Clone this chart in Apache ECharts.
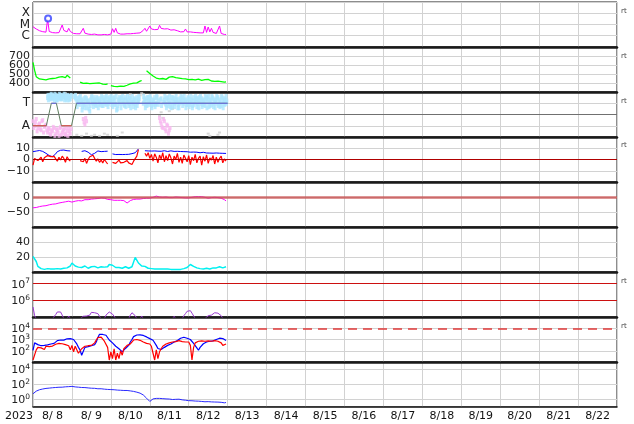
<!DOCTYPE html>
<html><head><meta charset="utf-8">
<script src="https://cdn.jsdelivr.net/npm/echarts@6/dist/echarts.min.js"></script>
<style>html,body{margin:0;padding:0;background:#fff}#c{width:634px;height:424px}</style>
</head><body><div id="c"></div>
<script>
// ---------- axis labels ----------
const dayLabels = ['8/ 8','8/ 9','8/10','8/11','8/12','8/13','8/14','8/15','8/16','8/17','8/18','8/19','8/20','8/21','8/22'];
const yearLabel = '2023';
const xrayClassLabels = {'-6':'C','-5':'M','-4':'X'};
const sectorLabels = {'1':'T','-1':'A'};

// ---------- data (hourly from 2023-08-08 00:00) ----------
const xrayMicroW = [6.3,5.0,4.0,3.2,2.8,2.5,2.3,2.2,2.1,28,2.4,2.0,1.9,1.8,1.8,1.7,1.9,2.5,9.0,3.0,2.0,2.2,4.6,2.4,
 1.7,1.6,1.5,1.5,1.6,1.5,1.8,4.6,1.7,1.5,1.4,1.4,1.3,1.3,1.4,1.3,1.2,1.3,1.2,1.2,1.3,1.2,1.2,1.3,
 1.4,4.2,2.0,4.6,1.8,1.5,1.4,1.5,1.4,1.4,1.5,1.6,1.5,1.4,1.6,1.5,1.7,1.6,1.8,2.2,3.0,4.6,2.5,2.4,
 7.4,4.0,3.2,3.5,4.2,3.6,8.5,4.5,5.0,4.0,3.4,4.2,3.6,3.2,3.0,3.4,3.0,2.8,2.4,2.2,2.0,2.3,4.0,2.2,
 2.0,2.2,1.9,2.0,1.8,1.9,2.0,1.8,2.4,1.8,7.4,2.0,6.0,2.2,4.6,2.0,1.8,1.6,1.5,7.4,1.6,1.4,1.3,1.3];
const flareHour = [9.3];
const flareMicroW = [35];

const windSpeed = [630,540,470,455,445,460,440,450,435,455,445,460,450,470,455,475,465,480,470,490,460,485,470,455,
 null,null,null,null,null,410,400,395,405,398,400,392,402,396,405,398,392,400,395,388,392,385,390,null,
 372,368,362,370,360,358,365,356,362,368,375,382,390,388,398,405,402,412,420,428,null,null,535,520,
 505,490,478,470,455,470,445,462,450,468,440,458,465,445,470,452,460,438,455,462,448,452,445,458,
 438,452,440,460,435,448,442,455,430,445,438,425,440,430,422,435,418,428,420,432,415,420,410,412];

const sectorHours = [0, 8.2, 11.3, 14.4, 17.5, 23.7, 26.8, 120];
const sectorState = [-1, -1, 1, 1, -1, -1, 1, 1];
const sectorBlueA = [null,null,null,null,null,null,null,null,null,
 1.5,1.6,1.4,1.7,1.5,1.6,1.3,1.5,1.7,1.4,1.6,1.5,1.3,1.6,1.4,
 null,null,1.5,
 1.2,1.4,0.9,1.3,1.1,0.6,1.4,1.2,0.3,1.5,1.0,1.3,0.8,1.4,1.2,1.1,1.5,1.3,0.9,1.4,1.2,
 1.3,1.1,1.5,0.9,0.5,1.2,1.4,1.0,1.3,1.5,1.2,0.8,1.4,1.1,0.7,1.3,1.5,1.2,null,null,1.0,1.4,1.2,1.5,
 1.1,0.8,1.3,1.5,1.0,1.2,null,1.4,null,1.3,0.9,1.5,1.0,1.2,0.8,1.4,1.1,1.3,0.6,1.2,1.5,1.0,1.3,1.1,
 1.4,0.9,1.2,1.5,1.1,0.7,1.3,1.0,1.4,1.2,0.8,1.5,1.1,1.3,0.9,1.4,1.2,1.0,1.5,1.3,0.8,1.2,1.4,1.6];
const sectorBlueB = [null,null,null,null,null,null,null,null,null,
 1.3,1.7,1.5,1.4,1.8,1.3,1.6,1.4,1.5,1.7,1.3,1.6,1.5,1.4,1.7,
 null,1.6,1.4,
 1.0,1.5,1.2,0.7,1.4,1.0,1.2,0.5,1.3,1.1,1.5,0.9,1.3,1.0,1.4,0.8,1.2,1.5,1.1,1.0,1.3,
 0.9,1.4,1.2,0.4,1.3,1.0,1.5,1.2,0.8,1.3,1.1,1.5,1.0,1.2,1.4,0.9,1.1,1.4,null,null,1.3,0.9,1.5,1.2,
 1.4,1.0,1.2,0.9,1.5,null,1.3,null,1.1,1.0,1.4,1.2,0.7,1.5,1.1,1.0,1.3,0.9,1.4,1.1,1.3,1.2,0.9,1.5,
 1.1,1.3,0.8,1.2,1.4,1.0,1.5,1.2,0.9,1.3,1.1,1.4,0.7,1.2,1.5,1.0,1.3,1.4,0.9,1.1,1.5,1.0,1.3,1.2];
const sectorBlueC = [null,null,null,null,null,null,null,null,null,
 1.7,1.4,1.8,1.5,1.3,1.7,1.5,1.8,1.4,1.6,1.8,1.4,1.7,1.3,1.6,
 null,null,1.7,
 0.7,1.1,1.6,0.4,0.9,1.5,0.6,1.0,0.8,1.6,0.7,1.1,1.5,0.6,0.9,1.6,0.8,1.0,1.6,0.7,1.5,
 1.6,0.7,0.9,1.6,0.8,1.5,0.6,1.6,0.9,0.7,1.6,1.0,0.6,1.6,1.0,0.6,0.8,1.6,null,null,1.6,0.6,0.8,0.9,
 1.6,0.6,0.9,0.7,1.6,0.9,null,0.8,null,1.6,0.6,0.8,1.6,0.6,1.5,0.7,1.6,0.6,1.0,1.6,0.8,1.6,0.6,0.9,
 0.7,1.6,0.6,0.9,1.6,1.4,0.6,1.6,0.7,0.9,1.6,0.6,1.6,0.8,1.6,0.7,0.6,1.6,0.8,0.7,1.6,0.6,0.9,1.0];
const sectorPinkA = [-0.6,-1.0,-0.4,-1.2,-0.8,-1.4,-0.5,-1.1,-0.9,-1.6,-1.3,-1.8,-1.5,-1.2,-1.7,-1.4,-1.9,-1.1,-1.6,-1.3,-1.8,-1.5,-1.2,-1.7,
 null,null,null,null,null,null,null,-0.4,-0.9,-0.6,
 null,null,null,null,null,null,null,null,null,null,null,null,null,null,null,null,null,null,null,null,null,null,
 null,null,null,null,null,null,null,null,null,null,null,null,null,null,null,null,null,null,null,null,null,null,
 -0.3,-0.8,-1.2,-0.6,-1.5,-1.0,-1.4,
 null,null,null,null,null,null,null,null,null,null,null,null,null,null,null,null,null,null,
 null,null,null,null,null,null,null,null,null,null,null,null,null,null,null,null,null];
const sectorPinkB = [-1.2,-0.7,-1.5,-0.9,-1.3,-0.6,-1.6,-1.0,-1.4,-1.2,-1.7,-1.4,-1.1,-1.9,-1.3,-1.6,-1.2,-1.8,-1.4,-1.7,-1.2,-1.9,-1.5,-1.3,
 null,null,null,null,null,null,null,-0.7,-0.3,null,
 null,null,null,null,null,null,null,null,null,null,null,null,null,null,null,null,null,null,null,null,null,null,
 null,null,null,null,null,null,null,null,null,null,null,null,null,null,null,null,null,null,null,null,null,null,
 -0.6,-1.1,-0.4,-1.3,-0.9,-1.7,-1.2,
 null,null,null,null,null,null,null,null,null,null,null,null,null,null,null,null,null,null,
 null,null,null,null,null,null,null,null,null,null,null,null,null,null,null,null,null];
const sectorGrayHours = [11,14,17,20,27,30,33,36,38,41,44,46,52,55,60,66,67,68,78,79,80,84,86,108,109,114,115];
const sectorGrayVals  = [1.8,1.7,1.8,1.9,-1.8,-1.9,-1.7,-1.9,-1.8,-1.9,-1.7,-1.8,-1.9,-1.6,1.8,1.7,1.9,1.8,-0.1,0.2,-0.3,0.3,0.5,-1.7,-1.9,-1.8,-1.6];

const imfBt = [7.0,7.2,7.5,7.8,8.0,7.6,7.2,6.5,5.5,4.5,3.5,2.8,2.5,3.2,5.0,7.0,7.8,8.2,8.0,8.4,8.1,7.8,8.0,7.6,
 null,null,null,null,null,null,
 7.2,7.5,7.8,7.4,6.5,5.0,4.2,4.5,5.5,7.0,7.6,7.4,7.0,6.8,7.2,7.6,7.4,
 null,null,
 5.0,4.6,4.4,4.2,4.5,4.3,4.4,4.6,4.5,4.8,4.6,5.0,5.2,5.5,6.0,
 7.5,9.4,null,null,null,
 7.8,7.4,7.6,8.0,7.5,7.2,7.6,7.9,7.4,7.0,7.3,7.6,7.8,7.5,7.1,7.4,7.7,7.6,7.2,7.0,7.3,7.5,7.1,6.8,7.0,7.2,6.9,
 6.8,6.5,6.9,6.6,6.2,6.5,6.3,6.0,6.2,6.4,6.1,5.8,6.0,5.7,5.9,5.6,5.5,5.8,5.4,5.6,5.3,5.5,5.7,5.4];
const imfBz = [-5.0,1.0,2.5,-1.0,0.5,2.0,-2.0,1.5,3.0,3.5,3.2,2.5,2.2,2.8,0.5,-1.5,2.0,-0.5,3.0,1.0,-2.5,2.5,0.0,-1.5,
 null,null,null,null,null,
 -1.0,0.5,-2.0,1.0,-3.5,0.0,2.5,3.5,3.8,1.0,-1.5,0.5,-2.5,-0.5,-3.0,0.0,-1.0,-4.0,
 null,null,
 -2.5,-1.0,-3.5,-2.0,-0.5,-3.0,-1.5,-2.5,-4.0,-1.0,-3.0,-2.0,-4.5,-1.5,-3.0,
 3.0,8.8,null,null,null,
 5.5,3.0,6.0,1.0,4.5,-1.5,5.0,2.0,-3.0,4.0,0.5,6.0,-2.0,3.5,-1.0,5.0,1.5,-4.0,3.0,0.0,5.5,-2.5,2.0,-3.5,4.0,1.0,-2.0,
 3.5,-4.5,2.0,-1.0,4.5,-3.0,1.0,3.0,-5.0,2.5,-1.5,4.0,-3.5,1.5,-0.5,3.5,-4.0,2.0,-2.5,1.0,3.0,-3.0,0.5,-1.5];

const dstIndex = [-36,-35,-35,-33,-32,-32,-30,-29,-29,-27,-26,-26,-24,-23,-23,-21,-20,-19,-18,-18,-16,-15,-14,-12,
 -17,-22,-14,-11,-12,-14,-13,-10,-9,-8,-9,-7,-7,-6,-6,-5,-5,-4,-3,-3,-4,-6,-8,-8,
 -9,-10,-11,-10,-11,-12,-11,-10,-12,-15,-20,-17,-12,-9,-8,-8,-7,-6,-7,-6,-5,-5,-4,-4,
 -4,-3,-1,1,3,2,0,-1,-1,-1,0,-1,-2,-2,-2,-1,0,-1,-1,-1,-2,-2,-3,-3,
 -3,-2,-1,0,1,2,1,0,1,0,-1,-3,-4,-3,-2,-1,-1,-1,-2,-3,-4,-6,-9,-13];

const density = [20.8,20.5,14,7.5,5,4.5,4,3.5,4,4.5,3.5,4,3.5,4,5,4.5,5,4,4.5,5,4.5,5.5,6,8,
 12,11,8,7,6.5,7,6,7.5,8,6,5,6.5,7,8,7.5,6,5.5,6.5,7,8,6.5,5.5,7,10,
 12,9,7,6,5,6,5.5,5,6,7,5.5,5,6,7,7.5,19.5,18,12,10,8,9,7.5,6,5,
 5,4.5,5,4,4.5,4,3.5,4,4.5,4,3.5,4,3,3.5,4,3.5,3,3.5,4,3.5,4,4.5,5,6,
 8,10,9,7.5,6,5.5,5,4.5,5,4,4.5,5,4.5,4,5,5.5,6,5.5,6.5,7,6,5.5,6.5,7];

const electronsE5 = [4.0,1.2,0.8,0.8,0.8,0.8,0.8,0.8,0.8,0.8,0.8,0.8,0.8,0.8,1.4,2.0,2.5,2.0,1.3,0.8,0.8,0.8,1.15,0.8,
 0.8,0.8,0.8,0.8,0.8,0.8,0.8,1.1,1.3,1.15,1.5,1.3,1.9,2.2,1.8,1.4,1.6,1.1,0.8,0.8,0.8,1.3,1.7,2.0,
 1.8,1.5,1.2,0.8,0.8,0.8,0.8,0.8,0.8,0.8,0.8,0.8,1.3,1.8,1.7,1.2,0.8,0.8,0.8,1.15,0.8,0.8,0.8,0.8,
 0.8,0.8,0.8,0.8,0.8,0.8,0.8,0.8,0.8,0.8,0.8,0.8,0.8,0.8,0.8,1.1,0.8,0.8,0.8,0.8,0.8,1.2,1.6,2.2,
 1.8,2.4,1.7,1.3,0.8,0.8,0.8,0.8,0.8,0.8,0.8,0.8,1.2,1.5,1.3,1.6,1.8,1.4,1.7,1.5,1.2,0.8,0.8,0.8];
const electronLevels = [1e6, 1e7];

const fluxBlue = [110,500,400,350,300,280,320,300,350,330,380,400,420,450,600,800,850,900,850,880,1000,1150,1200,1200,
 1200,1000,700,400,200,120,40,60,200,250,230,260,280,300,350,600,1500,2900,3000,2800,2600,2400,1800,900,
 800,500,350,250,200,150,100,80,110,160,220,300,600,1000,1800,2400,2500,2400,2600,2500,2300,2000,1700,1500,
 1200,950,850,600,300,160,110,130,160,200,250,300,350,400,500,600,650,800,1000,1300,1700,1600,1400,1300,
 1200,1000,700,450,300,180,110,200,300,420,550,600,650,700,720,750,750,1000,1350,1300,1250,1200,1150,800];
const fluxRed = [15,20,120,200,150,180,220,130,250,190,230,170,260,300,380,400,450,380,420,450,350,300,280,120,
 300,80,250,120,60,45,150,200,250,220,280,240,300,350,500,900,1500,1800,1600,1200,700,600,200,15,
 80,20,150,15,60,20,100,40,150,220,300,350,400,500,900,1200,1000,900,850,700,600,500,450,300,
 400,250,60,15,120,20,80,150,250,300,400,450,500,550,600,700,650,700,800,750,650,700,600,800,
 600,300,15,200,500,600,700,650,750,800,700,850,750,800,700,650,800,750,700,600,500,300,200,400];
const fluxLevel = [1e4];

const lowerFlux = [5.8,9.5,13,16,20,21,25,26,30,31,33,34,37,38,40,40,43,45,44,46,49,50,52,55,
 56,50,48,45,44,42,40,38,39,36,35,33,32,30,31,28,27,26,27,25,24,23,22,22,
 21,20,20,19,18,18,17,17,16,16,16,15,14,13,12,11,9.5,8.5,7,5.5,4,2.5,1.5,0.9,
 0.55,0.7,1.2,1.5,1.4,1.3,1.4,1.2,1.3,1.25,1.2,1.1,1.15,1.1,1.0,1.1,1.05,1.0,1.1,0.95,0.9,0.85,0.8,0.75,
 0.7,0.6,0.68,0.55,0.62,0.5,0.6,0.52,0.55,0.48,0.5,0.45,0.52,0.44,0.48,0.42,0.46,0.4,0.45,0.38,0.42,0.4,0.36,0.4];

// ---------- helpers ----------
const FONT = 'DejaVu Sans';
function line(arr, off, scale) {
  return arr.map((v, i) => [i + off, v == null ? '-' : v * scale]);
}
function pts(arr, off) {
  const r = [];
  arr.forEach((v, i) => { if (v != null) r.push([i + off, v]); });
  return r;
}
function minus(v) { return v < 0 ? '\u2212' + Math.abs(v) : String(v); }
function powFmt(allowed) {
  return function (v) {
    const l = Math.log10(v), e = Math.round(l);
    if (Math.abs(l - e) > 0.01 || allowed.indexOf(e) < 0) return '';
    return '{b|10}{s|' + e + '}';
  };
}
const powRich = {
  b: { fontSize: 11, fontFamily: FONT, color: '#222', lineHeight: 13, verticalAlign: 'bottom' },
  s: { fontSize: 7.5, fontFamily: FONT, color: '#222', lineHeight: 8, verticalAlign: 'top' }
};

const panels = [
  { type: 'log', min: 1e-7, max: 1e-3, fmt: v => { const l = Math.log10(v), e = Math.round(l); return Math.abs(l - e) < 0.01 ? (xrayClassLabels[e] || '') : ''; }, fs: 12 },
  { type: 'value', min: 300, max: 800, interval: 100 },
  { type: 'value', min: -2, max: 2, interval: 1, fmt: v => sectorLabels[v] || '', fs: 12 },
  { type: 'value', min: -20, max: 20, interval: 10, fmt: minus },
  { type: 'value', min: -100, max: 50, interval: 50, fmt: minus },
  { type: 'value', min: 0, max: 60, interval: 20 },
  { type: 'log', min: 1e5, max: 5e7, fmt: powFmt([6, 7]) },
  { type: 'log', min: 10, max: 1e5, fmt: powFmt([2, 3, 4]) },
  { type: 'log', logBase: 100, min: 0.1, max: 1e5, fmt: powFmt([0, 2, 4]) }
];

const grids = panels.map((p, i) => ({
  left: 33, width: 584, top: 2 + 45 * i, height: 45,
  show: true, borderColor: '#1a1a1a', borderWidth: 1, backgroundColor: '#fff'
}));
const xAxes = panels.map((p, i) => ({
  gridIndex: i, type: 'value', min: 0, max: 360, interval: 24,
  axisLine: { show: true, onZero: false, lineStyle: { color: '#1a1a1a', width: i < 8 ? 2.5 : 1.5 } },
  axisTick: { show: false },
  splitLine: { show: true, lineStyle: { color: '#d2d2d2', width: 1 } },
  axisLabel: {
    show: i === 8, fontSize: 11, fontFamily: FONT, color: '#111', margin: 4,
    padding: [0, 0, 0, 39], showMaxLabel: false,
    formatter: v => dayLabels[Math.round(v / 24)] || ''
  }
}));
const yAxes = panels.map((p, i) => {
  const a = {
    gridIndex: i, type: p.type, min: p.min, max: p.max,
    axisLine: { show: false }, axisTick: { show: false },
    splitLine: { show: true, lineStyle: { color: '#d2d2d2', width: 1 } },
    axisLabel: {
      showMinLabel: false, showMaxLabel: false, fontSize: p.fs || 11, fontFamily: FONT,
      color: '#222', margin: 3, rich: powRich
    }
  };
  if (p.interval) a.interval = p.interval;
  if (p.logBase) a.logBase = p.logBase;
  if (p.fmt) a.axisLabel.formatter = p.fmt;
  return a;
});

function hline(values, style) {
  return { silent: true, symbol: 'none', label: { show: false }, lineStyle: style, data: values.map(v => ({ yAxis: v })) };
}
const base = { type: 'line', showSymbol: false, symbol: 'none', animation: false, connectNulls: false };

// sector segments
const sectorRed = [], sectorBlue = [];
for (let k = 0; k + 1 < sectorHours.length; k++) {
  if (sectorState[k] === sectorState[k + 1]) {
    const tgt = sectorState[k] < 0 ? sectorRed : sectorBlue;
    tgt.push([sectorHours[k], sectorState[k]], [sectorHours[k + 1], sectorState[k + 1]], [sectorHours[k + 1], '-']);
  }
}

const series = [
  // panel 1: X-ray
  Object.assign({}, base, { xAxisIndex: 0, yAxisIndex: 0, data: line(xrayMicroW, 0, 1e-6), lineStyle: { color: '#ff00ff', width: 1 } }),
  { type: 'scatter', xAxisIndex: 0, yAxisIndex: 0, animation: false, symbol: 'emptyCircle', symbolSize: 6,
    itemStyle: { color: '#3340ff', borderWidth: 1.5 }, data: flareHour.map((h, k) => [h, flareMicroW[k] * 1e-6]), z: 5 },
  // panel 2: speed
  Object.assign({}, base, { xAxisIndex: 1, yAxisIndex: 1, data: line(windSpeed, 0, 1), lineStyle: { color: '#00ff00', width: 1.3 } }),
  // panel 3: sector
  { type: 'scatter', xAxisIndex: 2, yAxisIndex: 2, animation: false, symbol: 'rect', symbolSize: [3, 2], itemStyle: { color: '#cfcfcf' },
    data: sectorGrayHours.map((h, k) => [h, sectorGrayVals[k]]) },
  { type: 'scatter', xAxisIndex: 2, yAxisIndex: 2, animation: false, symbol: 'rect', symbolSize: [3, 4], itemStyle: { color: '#f7b6ef' },
    data: pts(sectorPinkA, 0).concat(pts(sectorPinkB, 0.5)) },
  { type: 'scatter', xAxisIndex: 2, yAxisIndex: 2, animation: false, symbol: 'rect', symbolSize: [3, 5], itemStyle: { color: '#ade6ff' },
    data: pts(sectorBlueA, 0).concat(pts(sectorBlueB, 0.5), pts(sectorBlueC, 0.25)) },
  Object.assign({}, base, { xAxisIndex: 2, yAxisIndex: 2, data: sectorHours.map((h, k) => [h, sectorState[k]]), lineStyle: { color: '#5f7f5f', width: 1 },
    markLine: hline([0], { color: '#707070', width: 1, type: 'solid' }) }),
  Object.assign({}, base, { xAxisIndex: 2, yAxisIndex: 2, data: sectorRed, lineStyle: { color: '#e84a4a', width: 1 } }),
  Object.assign({}, base, { xAxisIndex: 2, yAxisIndex: 2, data: sectorBlue, lineStyle: { color: '#6a6af0', width: 1 } }),
  // panel 4: IMF
  Object.assign({}, base, { xAxisIndex: 3, yAxisIndex: 3, data: line(imfBt, 0, 1), lineStyle: { color: '#0000ff', width: 1 } }),
  Object.assign({}, base, { xAxisIndex: 3, yAxisIndex: 3, data: line(imfBz, 0, 1), lineStyle: { color: '#ff0000', width: 1.2 },
    markLine: hline([0], { color: '#b00000', width: 1.2, type: 'solid' }) }),
  // panel 5: Dst
  Object.assign({}, base, { xAxisIndex: 4, yAxisIndex: 4, data: line(dstIndex, 0, 1), lineStyle: { color: '#ff00ff', width: 1 },
    markLine: hline([0], { color: 'rgba(200,80,80,0.8)', width: 2.5, type: 'solid' }) }),
  // panel 6: density
  Object.assign({}, base, { xAxisIndex: 5, yAxisIndex: 5, data: line(density, 0, 1), lineStyle: { color: '#00f0f0', width: 1.5 } }),
  // panel 7: electrons
  Object.assign({}, base, { xAxisIndex: 6, yAxisIndex: 6, data: line(electronsE5, 0, 1e5), lineStyle: { color: '#9a3ad0', width: 1 },
    markLine: hline(electronLevels, { color: '#cc1010', width: 1, type: 'solid' }) }),
  // panel 8: flux
  Object.assign({}, base, { xAxisIndex: 7, yAxisIndex: 7, data: line(fluxBlue, 0, 1), lineStyle: { color: '#0000ff', width: 1.2 } }),
  Object.assign({}, base, { xAxisIndex: 7, yAxisIndex: 7, data: line(fluxRed, 0, 1), lineStyle: { color: '#ff0000', width: 1.2 },
    markLine: hline(fluxLevel, { color: '#e03a3a', width: 1.5, type: [9, 6] }) }),
  // panel 9
  Object.assign({}, base, { xAxisIndex: 8, yAxisIndex: 8, data: line(lowerFlux, 0, 1), lineStyle: { color: '#2a2aff', width: 1 } })
];

const rtTops = [12, 57, 102, 146, 282, 327];
const graphic = rtTops.map(y => ({ type: 'text', left: 621, top: y - 4, style: { text: 'rt', fontSize: 7, fontFamily: FONT, fill: '#444' } }));
graphic.push({ type: 'text', left: 5, top: 411, style: { text: yearLabel, fontSize: 11, fontFamily: FONT, fill: '#111' } });

const chart = echarts.init(document.getElementById('c'), null, { renderer: 'canvas' });
chart.setOption({ animation: false, backgroundColor: '#fff', grid: grids, xAxis: xAxes, yAxis: yAxes, series: series, graphic: graphic });
</script>
</body></html>
